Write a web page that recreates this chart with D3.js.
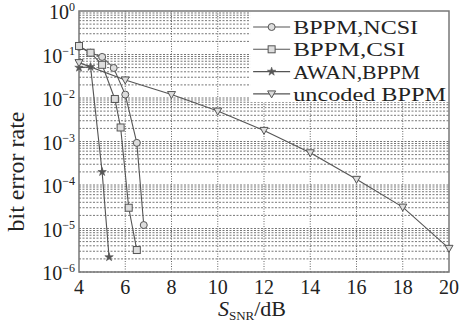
<!DOCTYPE html>
<html>
<head>
<meta charset="utf-8">
<script src="https://cdn.jsdelivr.net/npm/d3@7"></script>
<style>
  body { margin: 0; background: #fff; }
  text { font-family: "Liberation Serif", "Times New Roman", serif; fill: #222; }
</style>
</head>
<body>
<div id="chart"></div>
<script>
var svgWidth = 459;
var svgHeight = 324;

var margin = { top: 11, right: 10, bottom: 52, left: 79 };
var chartWidth = svgWidth - margin.left - margin.right;
var chartHeight = svgHeight - margin.top - margin.bottom;

// data
var seriesNames = ["BPPM,NCSI", "BPPM,CSI", "AWAN,BPPM", "uncoded BPPM"];
var legendWidths = [125, 112, 127, 153];
var ncsiX = [4, 4.5, 5, 5.5, 6, 6.5, 6.8];
var ncsiY = [0.15, 0.11, 0.088, 0.049, 0.012, 9.3e-4, 1.2e-5];
var csiX = [4, 4.5, 5, 5.55, 5.8, 6.15, 6.5];
var csiY = [0.157, 0.11, 0.058, 9.5e-3, 2.1e-3, 3e-5, 3.2e-6];
var awanX = [4, 4.5, 5, 5.3];
var awanY = [0.05, 0.052, 2e-4, 2.2e-6];
var uncodedX = [4, 6, 8, 10, 12, 14, 16, 18, 20];
var uncodedY = [0.065, 0.026, 0.012, 5e-3, 1.8e-3, 5.5e-4, 1.35e-4, 3.1e-5, 3.5e-6];
var xTicks = [4, 6, 8, 10, 12, 14, 16, 18, 20];
var yExponents = [0, -1, -2, -3, -4, -5, -6];

var markers = ["circle", "square", "star", "triangle"];
var allX = [ncsiX, csiX, awanX, uncodedX];
var allY = [ncsiY, csiY, awanY, uncodedY];

var svg = d3.select("#chart").append("svg")
    .attr("width", svgWidth)
    .attr("height", svgHeight);

var chartGroup = svg.append("g")
    .attr("transform", `translate(${margin.left}, ${margin.top})`);

var x = d3.scaleLinear().domain([4, 20]).range([0, chartWidth]);
var y = d3.scaleLog().domain([1e-6, 1]).range([chartHeight, 0]);

// horizontal grid, every minor value
var hGrid = [];
for (var e = -6; e < 0; e++) {
    for (var m = 1; m <= 9; m++) hGrid.push(m * Math.pow(10, e));
}
chartGroup.selectAll(".hgrid").data(hGrid).enter()
    .append("line")
    .attr("x1", 0).attr("x2", chartWidth)
    .attr("y1", d => y(d)).attr("y2", d => y(d))
    .attr("stroke", "#777")
    .attr("stroke-width", 1)
    .attr("stroke-dasharray", "2,1.5");

// vertical grid
chartGroup.selectAll(".vgrid").data(xTicks.slice(1, -1)).enter()
    .append("line")
    .attr("x1", d => x(d)).attr("x2", d => x(d))
    .attr("y1", 0).attr("y2", chartHeight)
    .attr("stroke", "#666")
    .attr("stroke-width", 1)
    .attr("stroke-dasharray", "1,1.5");

// legend background covers the grid
var legend = chartGroup.append("g").attr("transform", `translate(${x(11.4)}, 0)`);
legend.append("rect")
    .attr("x", 0).attr("y", 0)
    .attr("width", chartWidth - x(11.4)).attr("height", 91)
    .attr("fill", "#fff");

// frame
chartGroup.append("rect")
    .attr("width", chartWidth).attr("height", chartHeight)
    .attr("fill", "none")
    .attr("stroke", "#777")
    .attr("stroke-width", 1.5);

function drawMarker(g, kind, cx, cy) {
    if (kind == "circle") {
        g.append("circle").attr("cx", cx).attr("cy", cy).attr("r", 3.5)
            .attr("fill", "#ddd").attr("stroke", "#555").attr("stroke-width", 1);
    } else if (kind == "square") {
        g.append("rect").attr("x", cx - 3.5).attr("y", cy - 3.5)
            .attr("width", 7).attr("height", 7)
            .attr("fill", "#ddd").attr("stroke", "#555").attr("stroke-width", 1);
    } else if (kind == "star") {
        g.append("path")
            .attr("d", d3.symbol().type(d3.symbolStar).size(22)())
            .attr("transform", `translate(${cx},${cy})`)
            .attr("fill", "#555").attr("stroke", "#555").attr("stroke-width", 0.6);
    } else {
        g.append("path")
            .attr("d", `M${cx - 4},${cy - 3}L${cx + 4},${cy - 3}L${cx},${cy + 4}Z`)
            .attr("fill", "#ddd").attr("stroke", "#555").attr("stroke-width", 1);
    }
}

var line = d3.line().x(d => x(d[0])).y(d => y(d[1]));

seriesNames.forEach(function(name, i) {
    var pts = allX[i].map((v, j) => [v, allY[i][j]]);
    chartGroup.append("path")
        .datum(pts)
        .attr("d", line)
        .attr("fill", "none")
        .attr("stroke", "#555")
        .attr("stroke-width", 1.1);
    var g = chartGroup.append("g");
    pts.forEach(function(p) {
        drawMarker(g, markers[i], x(p[0]), y(p[1]));
    });
});

// legend entries
seriesNames.forEach(function(name, i) {
    var ly = 16 + i * 22.3;
    legend.append("line")
        .attr("x1", 3).attr("x2", 40)
        .attr("y1", ly).attr("y2", ly)
        .attr("stroke", "#555").attr("stroke-width", 1.1);
    drawMarker(legend, markers[i], 21.5, ly);
    legend.append("text")
        .attr("x", 43).attr("y", ly + 7)
        .attr("font-size", 19.5)
        .attr("textLength", legendWidths[i])
        .attr("lengthAdjust", "spacingAndGlyphs")
        .text(name);
});

// x tick labels
chartGroup.selectAll(".xlab").data(xTicks).enter()
    .append("text")
    .attr("x", d => x(d))
    .attr("y", chartHeight + 22)
    .attr("text-anchor", "middle")
    .attr("font-size", 20)
    .text(d => d);

// y tick labels 10^n
var yLab = chartGroup.selectAll(".ylab").data(yExponents).enter()
    .append("text")
    .attr("x", -4)
    .attr("y", d => y(Math.pow(10, d)) + 8)
    .attr("text-anchor", "end")
    .attr("font-size", 20);
yLab.append("tspan").text("10");
yLab.append("tspan")
    .attr("font-size", 12)
    .attr("dy", -8)
    .text(d => d == 0 ? "0" : "\u2212" + (-d));

// axis titles
var xTitle = chartGroup.append("text")
    .attr("x", chartWidth / 2 - 12)
    .attr("y", chartHeight + 44)
    .attr("text-anchor", "middle")
    .attr("font-size", 22);
xTitle.append("tspan").attr("font-style", "italic").text("S");
xTitle.append("tspan").attr("font-size", 13).attr("dy", 4).text("SNR");
xTitle.append("tspan").attr("dy", -4).text("/dB");

chartGroup.append("text")
    .attr("transform", `translate(${-55}, ${chartHeight / 2 + 30}) rotate(-90)`)
    .attr("text-anchor", "middle")
    .attr("font-size", 24)
    .text("bit error rate");
</script>
</body>
</html>
